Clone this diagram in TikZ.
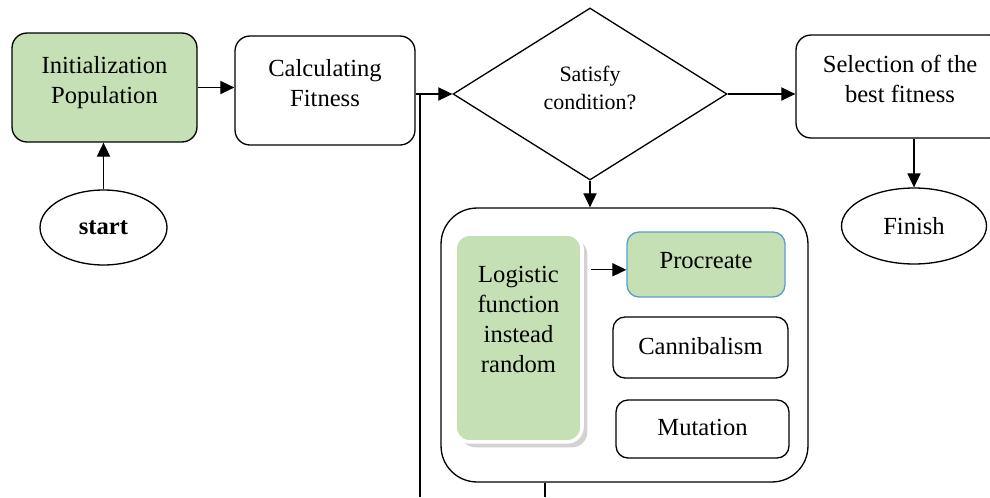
\documentclass[tikz,border=0pt]{standalone}
\usepackage{fontspec}
\setmainfont{Liberation Serif}
\usepackage{tikz}
\usetikzlibrary{shapes.geometric}
\usetikzlibrary{arrows.meta}
\usetikzlibrary{shadows}
\definecolor{boxgreen}{RGB}{197,224,180}
\definecolor{boxblue}{RGB}{91,155,213}

\begin{document}
\begin{tikzpicture}[x=0.02cm,y=-0.02cm,line width=0.75pt,font=\rmfamily\fontsize{14}{17}\selectfont]

	\tikzstyle{process} = [draw,rounded corners=0.3cm,align=center,text depth=9pt]
	\tikzstyle{terminal} = [draw,ellipse]
	\tikzstyle{decision} = [draw,diamond,align=center,text depth=7pt,font=\rmfamily\fontsize{12.5}{16}\selectfont]
	\tikzstyle{arrow} = [-{Triangle[length=8pt,width=7.5pt]}]

	\clip (0,0) rectangle (990,497);

	\node[process,fill=boxgreen,minimum width=3.7cm,minimum height=2.18cm] (init) at (104.5,87.5) {Initialization\\Population};
	\node[process,minimum width=3.6cm,minimum height=2.18cm] (calc) at (325,90.5) {Calculating\\Fitness};
	\node[terminal,minimum width=2.54cm,minimum height=1.5cm,font=\rmfamily\fontsize{14}{17}\selectfont\bfseries] (start) at (103.5,227.5) {start};
	\node[decision,minimum width=5.48cm,minimum height=3.36cm] (cond) at (590,94) {Satisfy\\condition?};
	\node[process,minimum width=4.16cm,minimum height=2.06cm] (select) at (900,86.5) {Selection of the\\best fitness};
	\node[terminal,minimum width=2.9cm,minimum height=1.52cm] (finish) at (914,226) {Finish};

	% operators block
	\node[draw,rounded corners=0.72cm,minimum width=7.34cm,minimum height=5.48cm] (block) at (624.5,345) {};
	\node[process,draw=white,line width=2pt,fill=boxgreen,text depth=21pt,
		drop shadow={shadow xshift=3pt,shadow yshift=-3pt,fill=gray!70},
		minimum width=2.54cm,minimum height=4.16cm] (logi) at (518.5,338) {Logistic\\function\\instead\\random};
	\node[process,draw=boxblue,fill=boxgreen,rounded corners=0.24cm,text depth=5pt,minimum width=3.16cm,minimum height=1.3cm] (proc) at (706,264.5) {Procreate};
	\node[process,rounded corners=0.24cm,text depth=2pt,minimum width=3.5cm,minimum height=1.22cm] (cann) at (700.5,347.5) {Cannibalism};
	\node[process,rounded corners=0.24cm,text depth=2pt,minimum width=3.46cm,minimum height=1.16cm] (mut) at (702.5,429) {Mutation};

	% connectors
	\draw[arrow] (start.north) -- (start.north |- init.south);
	\draw[arrow] (init.east) -- (init.east -| calc.west);
	\draw[arrow] (calc.east |- cond.west) -- (cond.west);
	\draw[arrow] (cond.east) -- (cond.east -| select.west);
	\draw[arrow] (finish.north |- select.south) -- (finish.north);
	\draw[arrow] (cond.south) -- (cond.south |- block.north);
	\coordinate (procin) at ([yshift=-3pt]proc.west);
	\draw[arrow] ([xshift=4pt]logi.east |- procin) -- (procin);

	% loop lines leaving the picture
	\coordinate (loopend) at (420,497);
	\draw (loopend |- cond.west) -- (loopend);
	\coordinate (blockout) at (545,497);
	\draw (blockout |- block.south) -- (blockout);

\end{tikzpicture}
\end{document}
